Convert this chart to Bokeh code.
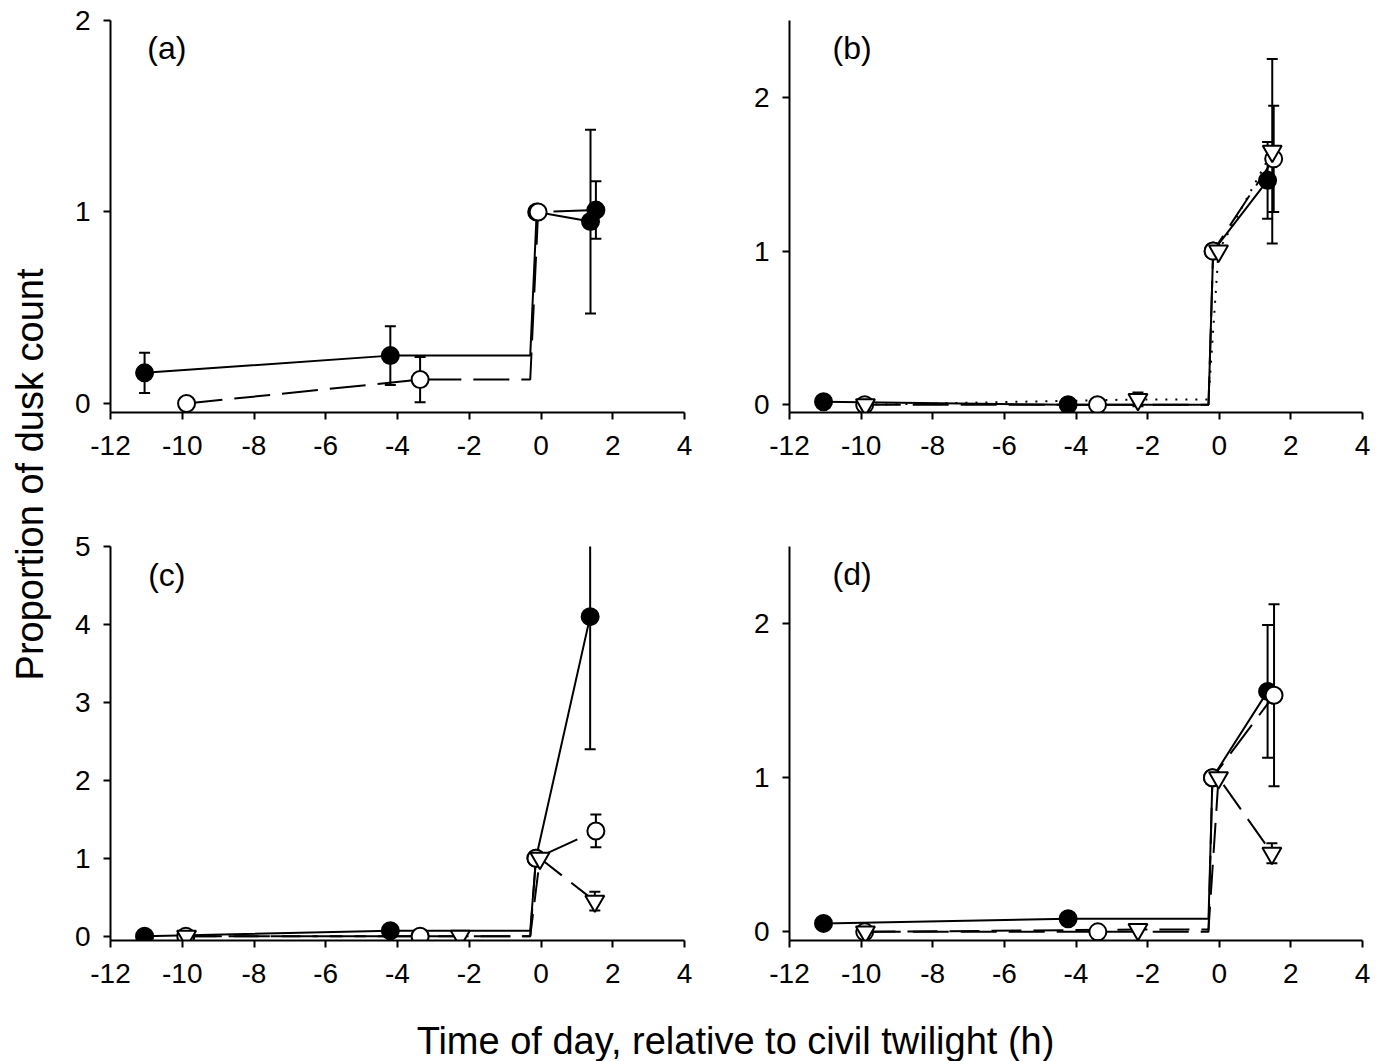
from bokeh.plotting import figure
from bokeh.models import Range1d, FixedTicker, Label
from bokeh.layouts import column, row
from bokeh.embed import file_html
from bokeh.resources import INLINE

FONT = "Liberation Sans"
STEP_T = -0.3  # time at which each pre-dusk line steps up to the dusk count

x_ticks = [-12, -10, -8, -6, -4, -2, 0, 2, 4]

# ---------- panel (a) ----------
a_filled_t = [-11.05, -4.2, -0.12, 1.38]
a_filled_y = [0.16, 0.25, 1.0, 0.95]
a_filled_e = [0.105, 0.153, 0.0, 0.48]
a_open_t = [-9.88, -3.37, -0.08, 1.53]
a_open_y = [0.0, 0.125, 1.0, 1.01]
a_open_e = [0.0, 0.118, 0.0, 0.15]
a_yticks = [0, 1, 2]

# ---------- panel (b) ----------
b_filled_t = [-11.05, -4.22, -0.17, 1.35]
b_filled_y = [0.02, 0.0, 1.0, 1.46]
b_filled_e = [0.0, 0.0, 0.0, 0.25]
b_open_t = [-9.9, -3.4, -0.17, 1.52]
b_open_y = [0.0, 0.0, 1.0, 1.6]
b_open_e = [0.0, 0.0, 0.0, 0.345]
b_tri_t = [-9.88, -2.27, -0.02, 1.48]
b_tri_y = [0.0, 0.035, 1.0, 1.65]
b_tri_e = [0.0, 0.045, 0.0, 0.6]
b_yticks = [0, 1, 2]

# ---------- panel (c) ----------
c_filled_t = [-11.05, -4.2, -0.14, 1.37]
c_filled_y = [0.0, 0.07, 1.0, 4.1]
c_filled_e = [0.0, 0.0, 0.0, 1.7]
c_open_t = [-9.9, -3.37, -0.14, 1.53]
c_open_y = [0.0, 0.0, 1.0, 1.35]
c_open_e = [0.0, 0.0, 0.0, 0.21]
c_tri_t = [-9.88, -2.25, -0.03, 1.5]
c_tri_y = [0.0, 0.0, 1.0, 0.45]
c_tri_e = [0.0, 0.0, 0.0, 0.12]
c_yticks = [0, 1, 2, 3, 4, 5]

# ---------- panel (d) ----------
d_filled_t = [-11.05, -4.22, -0.19, 1.35]
d_filled_y = [0.055, 0.085, 1.0, 1.56]
d_filled_e = [0.0, 0.0, 0.0, 0.43]
d_open_t = [-9.9, -3.39, -0.19, 1.53]
d_open_y = [0.0, 0.0, 1.0, 1.535]
d_open_e = [0.0, 0.0, 0.0, 0.59]
d_tri_t = [-9.88, -2.27, -0.02, 1.47]
d_tri_y = [0.0, 0.015, 1.0, 0.51]
d_tri_e = [0.0, 0.0, 0.0, 0.065]
d_yticks = [0, 1, 2]

# styles
SOLID = "solid"
DASH = "36 12"
DOT = "2 8"
DASH2 = "30 12"


def make_panel(width, height, bl, br, bt, bb, yr, yticks):
    p = figure(width=width, height=height,
               x_range=Range1d(-12, 4), y_range=Range1d(*yr),
               output_backend="svg", toolbar_location=None,
               min_border_left=bl, min_border_right=br,
               min_border_top=bt, min_border_bottom=bb)
    p.outline_line_color = None
    p.xgrid.visible = False
    p.ygrid.visible = False
    p.xaxis.ticker = FixedTicker(ticks=x_ticks)
    p.yaxis.ticker = FixedTicker(ticks=yticks)
    p.xaxis.major_label_overrides = {t: str(t) for t in x_ticks}
    p.yaxis.major_label_overrides = {t: str(t) for t in yticks}
    for ax in (p.xaxis, p.yaxis):
        ax.axis_line_width = 2
        ax.axis_line_color = "black"
        ax.major_tick_line_width = 2
        ax.major_tick_line_color = "black"
        ax.major_tick_out = 7
        ax.major_tick_in = 0
        ax.minor_tick_out = 0
        ax.minor_tick_in = 0
        ax.major_label_text_font = FONT
        ax.major_label_text_font_size = "28px"
        ax.major_label_text_color = "black"
    p.xaxis.major_label_standoff = 16
    p.yaxis.major_label_standoff = 13
    return p


def draw(p, series):
    # error bars
    for s in series:
        xs, ys, es = s["t"], s["y"], s["e"]
        idx = [i for i in range(len(xs)) if es[i] > 0]
        if not idx:
            continue
        bx = [xs[i] for i in idx]
        lo = [ys[i] - es[i] for i in idx]
        hi = [ys[i] + es[i] for i in idx]
        p.segment(x0=bx, y0=lo, x1=bx, y1=hi, line_color="black", line_width=2)
        p.scatter(x=bx + bx, y=lo + hi, marker="dash", size=11,
                  line_color="black", line_width=2)
    # lines
    for s in series:
        lt = s["t"][:2] + [STEP_T] + s["t"][2:]
        ly = s["y"][:2] + [s["y"][1]] + s["y"][2:]
        p.line(lt, ly, line_color="black", line_width=2, line_dash=s["dash"])
    # markers
    for s in series:
        fills = s["fill"]
        if isinstance(fills, str):
            fills = [fills] * len(s["t"])
        size = 19 if s["marker"] == "inverted_triangle" else 17
        p.scatter(x=s["t"], y=s["y"], marker=s["marker"], size=size,
                  fill_color=fills, line_color="black", line_width=2)


def tag(p, text, x, y):
    p.add_layout(Label(x=x, y=y, text=text, text_font=FONT,
                       text_font_size="32px", text_align="center",
                       text_baseline="middle", text_color="black"))


pa = make_panel(644, 476, 50, 20, 19, 64, (-0.047, 2.0), a_yticks)
draw(pa, [
    dict(t=a_filled_t, y=a_filled_y, e=a_filled_e, marker="circle", fill="black", dash=SOLID),
    dict(t=a_open_t, y=a_open_y, e=a_open_e, marker="circle",
         fill=["white", "white", "white", "black"], dash=DASH),
])
tag(pa, "(a)", -10.43, 1.855)

pb = make_panel(679, 476, 85, 21, 20, 64, (-0.05, 2.5), b_yticks)
draw(pb, [
    dict(t=b_filled_t, y=b_filled_y, e=b_filled_e, marker="circle", fill="black", dash=SOLID),
    dict(t=b_open_t, y=b_open_y, e=b_open_e, marker="circle", fill="white", dash=DASH),
    dict(t=b_tri_t, y=b_tri_y, e=b_tri_e, marker="inverted_triangle", fill="white", dash=DOT),
])
tag(pb, "(b)", -10.25, 2.32)

pc = make_panel(644, 525, 50, 20, 70, 61, (-0.055, 5.0), c_yticks)
draw(pc, [
    dict(t=c_filled_t, y=c_filled_y, e=c_filled_e, marker="circle", fill="black", dash=SOLID),
    dict(t=c_open_t, y=c_open_y, e=c_open_e, marker="circle", fill="white", dash=DASH),
    dict(t=c_tri_t, y=c_tri_y, e=c_tri_e, marker="inverted_triangle", fill="white", dash=DASH2),
])
tag(pc, "(c)", -10.43, 4.64)

pd_ = make_panel(679, 525, 85, 21, 70, 60, (-0.056, 2.5), d_yticks)
draw(pd_, [
    dict(t=d_filled_t, y=d_filled_y, e=d_filled_e, marker="circle", fill="black", dash=SOLID),
    dict(t=d_open_t, y=d_open_y, e=d_open_e, marker="circle", fill="white", dash=DASH),
    dict(t=d_tri_t, y=d_tri_y, e=d_tri_e, marker="inverted_triangle", fill="white", dash=DASH2),
])
tag(pd_, "(d)", -10.25, 2.32)


def blank(width, height):
    f = figure(width=width, height=height, x_range=Range1d(0, width),
               y_range=Range1d(0, height), output_backend="svg",
               toolbar_location=None, min_border=0)
    f.axis.visible = False
    f.grid.visible = False
    f.outline_line_color = None
    return f


ylab = blank(60, 1001)
ylab.add_layout(Label(x=29, y=527, text="Proportion of dusk count", angle=90,
                      angle_units="deg", text_font=FONT, text_font_size="38px",
                      text_align="center", text_baseline="middle", text_color="black"))

xlab = blank(1383, 60)
xlab.add_layout(Label(x=735, y=21, text="Time of day, relative to civil twilight (h)",
                      text_font=FONT, text_font_size="38px", text_align="center",
                      text_baseline="middle", text_color="black"))

grid = column(row(pa, pb), row(pc, pd_))
layout = column(row(ylab, grid), xlab)

open("out.html", "w").write(file_html(layout, INLINE))
